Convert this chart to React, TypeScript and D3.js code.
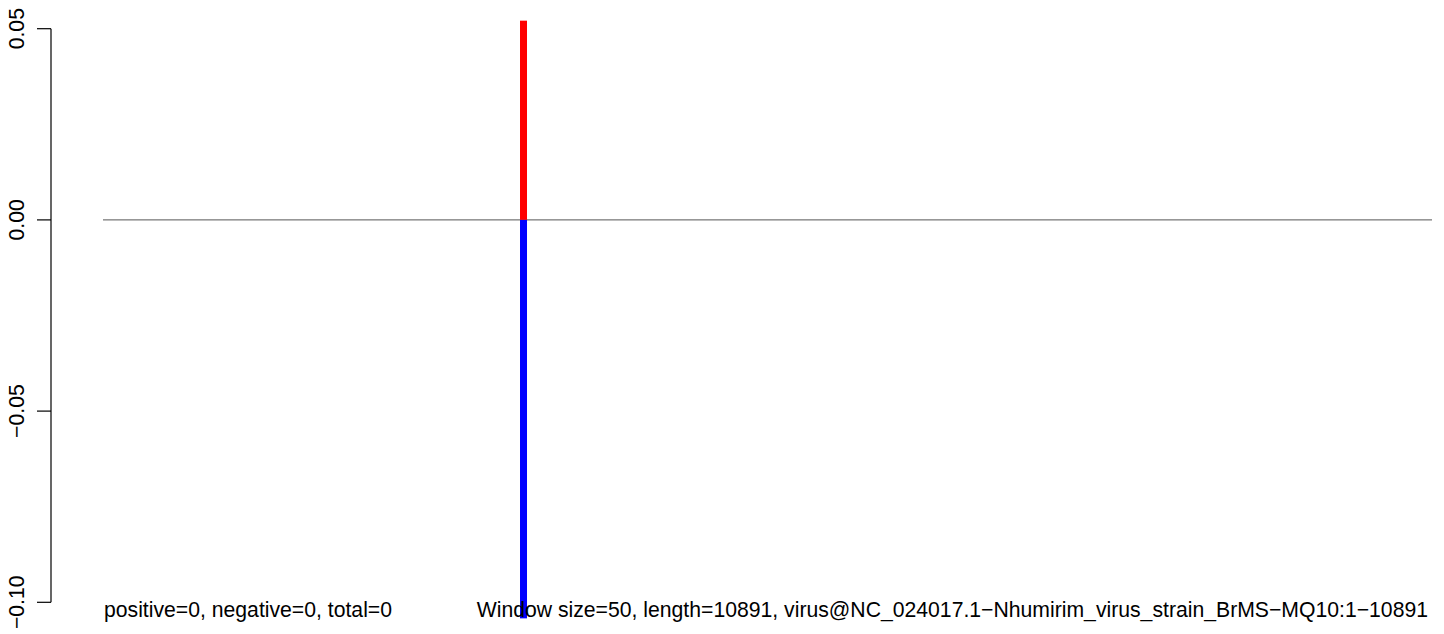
import React from "react";
import * as d3 from "d3";

const W = 1444;
const H = 634;

// data
const yTicks = [0.05, 0.0, -0.05, -0.1];
const positions = [3446];
const positiveValues = [0.0521];
const negativeValues = [-0.1042];
const seqLength = 10891;
const leftLabel = "positive=0, negative=0, total=0";
const rightLabel = "Window size=50, length=10891, virus@NC_024017.1\u2212Nhumirim_virus_strain_BrMS\u2212MQ10:1\u221210891";

const fmt = (v: number) => {
  const s = v.toFixed(2);
  return s.replace("-", "\u2212");
};

export default function App() {
  const x = d3.scaleLinear().domain([0, seqLength]).range([103, 1432]);
  const y = d3.scaleLinear().domain([-0.1, 0.05]).range([602.3, 28.7]);
  const font = "'Liberation Sans', Arial, sans-serif";
  const fs = 21.2;
  return (
    <svg width={W} height={H} style={{ position: "absolute", left: 0, top: 0, background: "#fff" }}>
      <rect x={0} y={0} width={W} height={H} fill="#fff" />
      {/* y axis */}
      <line x1={51} x2={51} y1={y(0.05)} y2={y(-0.1)} stroke="#000" strokeWidth={1.2} />
      {yTicks.map((t) => (
        <g key={t}>
          <line x1={37} x2={51} y1={y(t)} y2={y(t)} stroke="#000" strokeWidth={1.2} />
          <text
            transform={`translate(24,${y(t)}) rotate(-90)`}
            textAnchor="middle"
            fontFamily={font}
            fontSize={fs}
            fill="#000"
          >
            {fmt(t)}
          </text>
        </g>
      ))}
      {/* zero line */}
      <line x1={x(0)} x2={x(seqLength)} y1={y(0)} y2={y(0)} stroke="#555" strokeWidth={1} />
      {/* bars */}
      {positions.map((p, i) => (
        <g key={i}>
          <rect x={x(p) - 3.5} width={7} y={y(positiveValues[i])} height={y(0) - y(positiveValues[i])} fill="#ff0000" />
          <rect x={x(p) - 3.5} width={7} y={y(0)} height={y(negativeValues[i]) - y(0)} fill="#0000ff" />
        </g>
      ))}
      {/* bottom texts */}
      <text x={104} y={617} fontFamily={font} fontSize={fs} fill="#000">
        {leftLabel}
      </text>
      <text x={1428} y={617} textAnchor="end" fontFamily={font} fontSize={fs} fill="#000">
        {rightLabel}
      </text>
    </svg>
  );
}
